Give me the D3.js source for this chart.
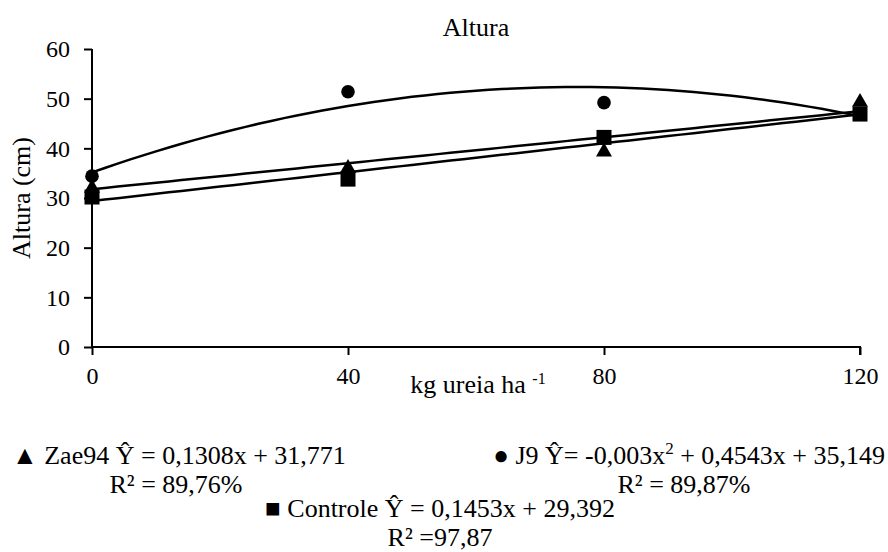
<!DOCTYPE html>
<html>
<head>
<meta charset="utf-8">
<script src="https://cdn.jsdelivr.net/npm/d3@7"></script>
<style>
  body { margin: 0; background: #fff; }
</style>
</head>
<body>
<div id="chart"></div>
<script>
// doses of urea (x) and measured heights (cm)
const doses = [0, 40, 80, 120];
const zae94 = [32.0, 36.0, 39.3, 49.3];
const j9 = [34.4, 51.4, 49.2, 47.0];
const controle = [30.2, 33.8, 42.2, 46.9];

// fitted trend coefficients [c, b, a] for y = a*x^2 + b*x + c, as printed in the legend
const zae94Fit = [31.771, 0.1308, 0];
const j9Fit = [35.149, 0.4543, -0.003];
const controleFit = [29.392, 0.1453, 0];

const yTicks = [0, 10, 20, 30, 40, 50, 60];

const FONT = "'Liberation Serif', 'Times New Roman', serif";

const W = 888, H = 552;
const margin = { top: 49, right: 28, bottom: 205, left: 92 };
const width = W - margin.left - margin.right;
const height = H - margin.top - margin.bottom;

const svg = d3.select("#chart").append("svg")
    .attr("width", W)
    .attr("height", H)
    .style("font-family", FONT);

const g = svg.append("g")
    .attr("transform", `translate(${margin.left},${margin.top})`);

const x = d3.scaleLinear().domain([0, 120]).range([0, width]);
const y = d3.scaleLinear().domain([0, 60]).range([height, 0]);

// Title
svg.append("text")
    .attr("x", 476)
    .attr("y", 36)
    .attr("text-anchor", "middle")
    .style("font-family", FONT)
    .style("font-size", "26px")
    .text("Altura");

// Axes
const yAxis = g.append("g")
    .call(d3.axisLeft(y).tickValues(yTicks).tickSize(8).tickPadding(14));
const xAxis = g.append("g")
    .attr("transform", `translate(0,${height})`)
    .call(d3.axisBottom(x).tickValues(doses).tickSize(8).tickPadding(12));

[yAxis, xAxis].forEach(a => {
    a.attr("font-family", FONT);
    a.select(".domain").attr("stroke", "#000").attr("stroke-width", 2);
    a.selectAll(".tick line").attr("stroke", "#000").attr("stroke-width", 2);
    a.selectAll(".tick text")
        .style("font-size", "24px")
        .style("font-family", FONT)
        .attr("fill", "#000");
});
// x axis domain drawn without outer ticks
xAxis.select(".domain").attr("d", `M0,0H${width}V8`);
yAxis.select(".domain").attr("d", `M0,0V${height}`);

// Axis titles
svg.append("text")
    .attr("transform", `translate(30,${margin.top + y(30)}) rotate(-90)`)
    .attr("text-anchor", "middle")
    .style("font-family", FONT)
    .style("font-size", "26px")
    .text("Altura (cm)");

const xl = svg.append("text")
    .attr("x", 478)
    .attr("y", 393)
    .attr("text-anchor", "middle")
    .style("font-family", FONT)
    .style("font-size", "26px");
xl.append("tspan").text("kg ureia ha ");
xl.append("tspan").attr("dy", -9).style("font-size", "16px").text("-1");

// Trend lines
const xs = d3.range(0, 121, 2);
const fitLine = d3.line()
    .x(d => x(d[0]))
    .y(d => y(d[1]));
[zae94Fit, j9Fit, controleFit].forEach(c => {
    g.append("path")
        .datum(xs.map(v => [v, c[0] + c[1] * v + c[2] * v * v]))
        .attr("d", fitLine)
        .attr("fill", "none")
        .attr("stroke", "#000")
        .attr("stroke-width", 2.5);
});

// Markers
g.selectAll(".tri").data(doses).enter().append("path")
    .attr("transform", (d, i) => `translate(${x(d)},${y(zae94[i])})`)
    .attr("d", d3.symbol().type(d3.symbolTriangle).size(110))
    .attr("fill", "#000");
g.selectAll(".dot").data(doses).enter().append("circle")
    .attr("cx", d => x(d))
    .attr("cy", (d, i) => y(j9[i]))
    .attr("r", 6.8)
    .attr("fill", "#000");
g.selectAll(".sq").data(doses).enter().append("rect")
    .attr("x", d => x(d) - 7.5)
    .attr("y", (d, i) => y(controle[i]) - 7.5)
    .attr("width", 15)
    .attr("height", 15)
    .attr("fill", "#000");

// Legend with equations
const legend = [
    { t: "▲ Zae94 Ŷ = 0,1308x + 31,771", x: 12, y: 464, a: "start" },
    { t: "R² = 89,76%", x: 176, y: 493, a: "middle" },
    { t: "● J9 Ŷ= -0,003x", sup: "2", rest: " + 0,4543x + 35,149", x: 885, y: 464, a: "end" },
    { t: "R² = 89,87%", x: 684, y: 493, a: "middle" },
    { t: "■ Controle Ŷ = 0,1453x + 29,392", x: 440, y: 517, a: "middle" },
    { t: "R² =97,87", x: 440, y: 546, a: "middle" }
];
legend.forEach(l => {
    const t = svg.append("text")
        .attr("x", l.x)
        .attr("y", l.y)
        .attr("text-anchor", l.a)
        .style("font-family", FONT)
        .style("font-size", "26px");
    t.append("tspan").text(l.t);
    if (l.sup) {
        t.append("tspan").attr("dy", -10).style("font-size", "17px").text(l.sup);
        t.append("tspan").attr("dy", 10).text(l.rest);
    }
});
</script>
</body>
</html>
